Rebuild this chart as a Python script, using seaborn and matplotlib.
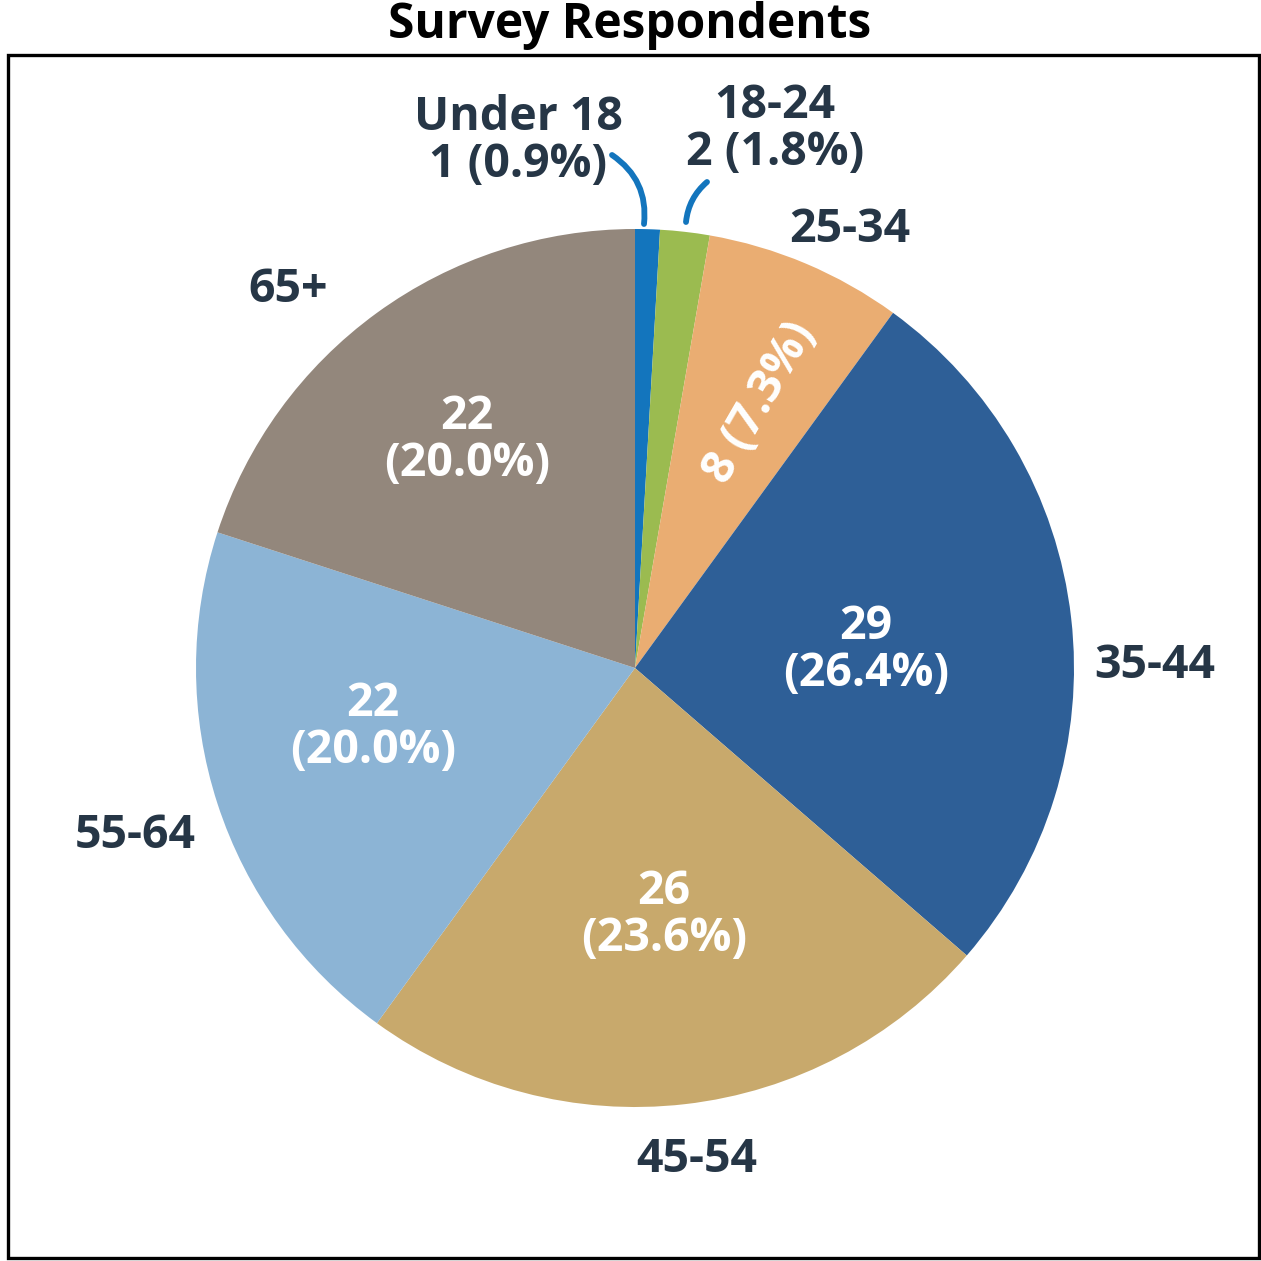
import matplotlib
matplotlib.use("Agg")
import matplotlib.pyplot as plt
import seaborn as sns
from matplotlib.patches import Rectangle

# --- data ---
groups = ['Under 18', '18-24', '25-34', '35-44', '45-54', '55-64', '65+']
counts = [1, 2, 8, 29, 26, 22, 22]
colors = ['#1375bd', '#9bbb50', '#eaad72', '#2e5f97', '#c8a96c', '#8cb4d5', '#93877c']

sns.set_theme(style="white")
plt.rcParams['font.family'] = ['Open Sans', 'DejaVu Sans']

total = sum(counts)
pcts = [c / total * 100 for c in counts]

W = 1261
fig = plt.figure(figsize=(12.61, 12.61), dpi=100)
ax = fig.add_axes([0, 0, 1, 1])

def py(y):
    # pixel row -> data y
    return W - y

cx, cy, r = 635, py(668), 439
ax.pie(counts, colors=colors, startangle=90, counterclock=False,
       center=(cx, cy), radius=r, wedgeprops=dict(linewidth=0), frame=True)
ax.set_xlim(0, W)
ax.set_ylim(0, W)
ax.set_aspect('equal')
ax.axis('off')

dark = '#263646'
fs = 33.5

# outside labels (big slices), positions in pixel layout
outer_pos = {'25-34': (850, 230), '35-44': (1155, 665), '45-54': (697, 1160),
             '55-64': (135, 836), '65+': (288, 290)}
inner_pos = {'35-44': (866, 650), '45-54': (664, 915), '55-64': (373, 727),
             '65+': (467, 440)}

for g, c, p in zip(groups, counts, pcts):
    if g in outer_pos:
        x, y = outer_pos[g]
        ax.text(x, py(y), g, ha='center', va='center', fontsize=fs,
                fontweight='bold', color=dark)
    if g in inner_pos:
        x, y = inner_pos[g]
        ax.text(x, py(y), f"{c}\n({p:.1f}%)", ha='center', va='center',
                fontsize=fs, fontweight='bold', color='white', linespacing=1.0)

# narrow slice label, rotated
i = groups.index('25-34')
ax.text(760, py(403), f"{counts[i]} ({pcts[i]:.1f}%)", ha='center', va='center',
        rotation=60, fontsize=fs, fontweight='bold', color='white')

# tiny slices with leader lines
i = groups.index('Under 18')
ax.text(518, py(141), f"{groups[i]}\n{counts[i]} ({pcts[i]:.1f}%)", ha='center',
        va='center', fontsize=fs, fontweight='bold', color=dark, linespacing=1.0)
ax.annotate('', xy=(644, py(224)), xytext=(612, py(155)),
            arrowprops=dict(arrowstyle='-', color='#1375bd', lw=4.2,
                            connectionstyle='arc3,rad=-0.3', shrinkA=0, shrinkB=0,
                            capstyle='round'))
i = groups.index('18-24')
ax.text(775, py(129), f"{groups[i]}\n{counts[i]} ({pcts[i]:.1f}%)", ha='center',
        va='center', fontsize=fs, fontweight='bold', color=dark, linespacing=1.0)
ax.annotate('', xy=(686, py(222)), xytext=(707, py(182)),
            arrowprops=dict(arrowstyle='-', color='#1375bd', lw=4.2,
                            connectionstyle='arc3,rad=0.2', shrinkA=0, shrinkB=0,
                            capstyle='round'))

# frame and title
ax.add_patch(Rectangle((8, py(1258)), 1251, 1203, fill=False, edgecolor='black',
                       linewidth=2.4, clip_on=False))
ax.text(630, py(25), 'Survey Respondents', ha='center', va='center',
        fontsize=34.5, fontweight='bold', color='black')

fig.savefig('out.png', dpi=100)
